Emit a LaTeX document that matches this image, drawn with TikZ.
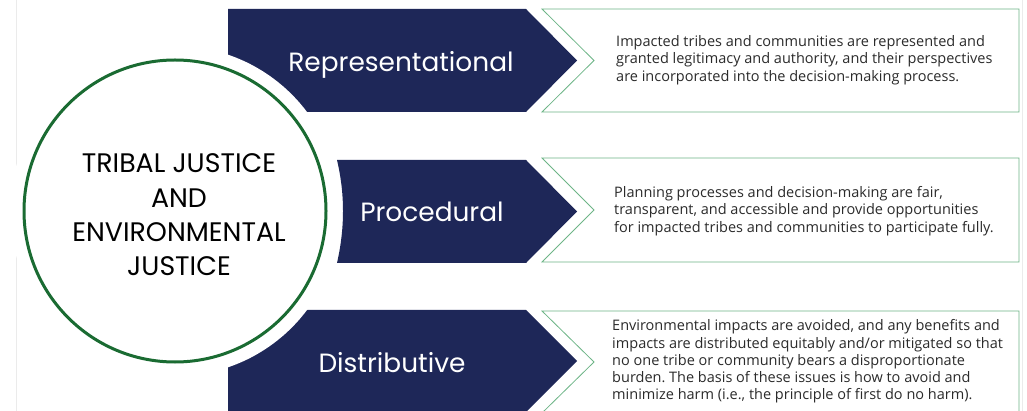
\documentclass[tikz,border=0pt]{standalone}
\usepackage{fontspec}
\setmainfont{Open Sans}
\newfontfamily\labelfont{Poppins}
\frenchspacing
\definecolor{navy}{HTML}{1E2758}
\definecolor{ringgreen}{HTML}{1A6B32}
\definecolor{boxgreen}{HTML}{6DB586}
\definecolor{bodytext}{HTML}{2B2B2B}
\tikzset{
  navybar/.style={fill=navy, draw=none},
  descbox/.style={draw=boxgreen, line width=0.8pt, fill=white},
  barlabel/.style={text=white, font=\labelfont\fontsize{26.4}{30}\selectfont, inner sep=0pt, anchor=base},
  desctext/.style={text=bodytext, font=\fontsize{14.5}{17.3}\selectfont, align=left, anchor=west, inner sep=0pt},
  edgeline/.style={draw=black!8, line width=0.6pt}
}
\begin{document}
\begin{tikzpicture}[x=1pt,y=-1pt]
\useasboundingbox (0,0) rectangle (1027,411);
\clip (0,0) rectangle (1027,411);
\fill[white] (0,0) rectangle (1027,411);
\draw[edgeline] (16.5,0) -- (16.5,411);
\draw[edgeline] (1022,0) -- (1022,411);
% navy bars 1 and 3
\path[navybar] (228,9) -- (526,9) -- (577,60.5) -- (526,112) -- (228,112) -- cycle;
\path[navybar] (228,310) -- (526,310) -- (577,361) -- (526,412) -- (228,412) -- cycle;
% white cut round the circle
\fill[white] (175,211) circle[radius=165];
% navy bar 2
\path[navybar] (337,160) -- (526,160) -- (577,211.5) -- (526,263) -- (337,263) .. controls (345,228) and (345,194) .. (337,160) -- cycle;
% description boxes
\path[descbox] (542,9) -- (1019,9) -- (1019,112) -- (542,112) -- (594,60.5) -- cycle;
\path[descbox] (542,158) -- (1019,158) -- (1019,262) -- (542,262) -- (594,210) -- cycle;
\path[descbox] (542,311) -- (1019,311) -- (1019,413) -- (542,413) -- (594,362) -- cycle;
% circle
\node[circle, draw=ringgreen, line width=3pt, fill=white, minimum size=302pt, inner sep=0pt] (hub) at (175,211) {};
\node[font=\labelfont\fontsize{26.8}{34.3}\selectfont, align=center, text=black, inner sep=0pt] (hubtext) at (179,215) {TRIBAL JUSTICE\\AND\\ENVIRONMENTAL\\JUSTICE};
% bar labels
\node[barlabel] (rep) at (401,72) {Representational};
\node[barlabel] (proc) at (432,222) {Procedural};
\node[barlabel] (dist) at (392,372) {Distributive};
% descriptions
\node[desctext] (repdesc) at (616,60) {Impacted tribes and communities are represented and\\granted legitimacy and authority, and their perspectives\\are incorporated into the decision-making process.};
\node[desctext] (procdesc) at (614,211) {Planning processes and decision-making are fair,\\transparent, and accessible and provide opportunities\\for impacted tribes and communities to participate fully.};
\node[desctext] (distdesc) at (612,361.5) {Environmental impacts are avoided, and any benefits and\\impacts are distributed equitably and/or mitigated so that\\no one tribe or community bears a disproportionate\\burden. The basis of these issues is how to avoid and\\minimize harm (i.e., the principle of first do no harm).};
\end{tikzpicture}
\end{document}
